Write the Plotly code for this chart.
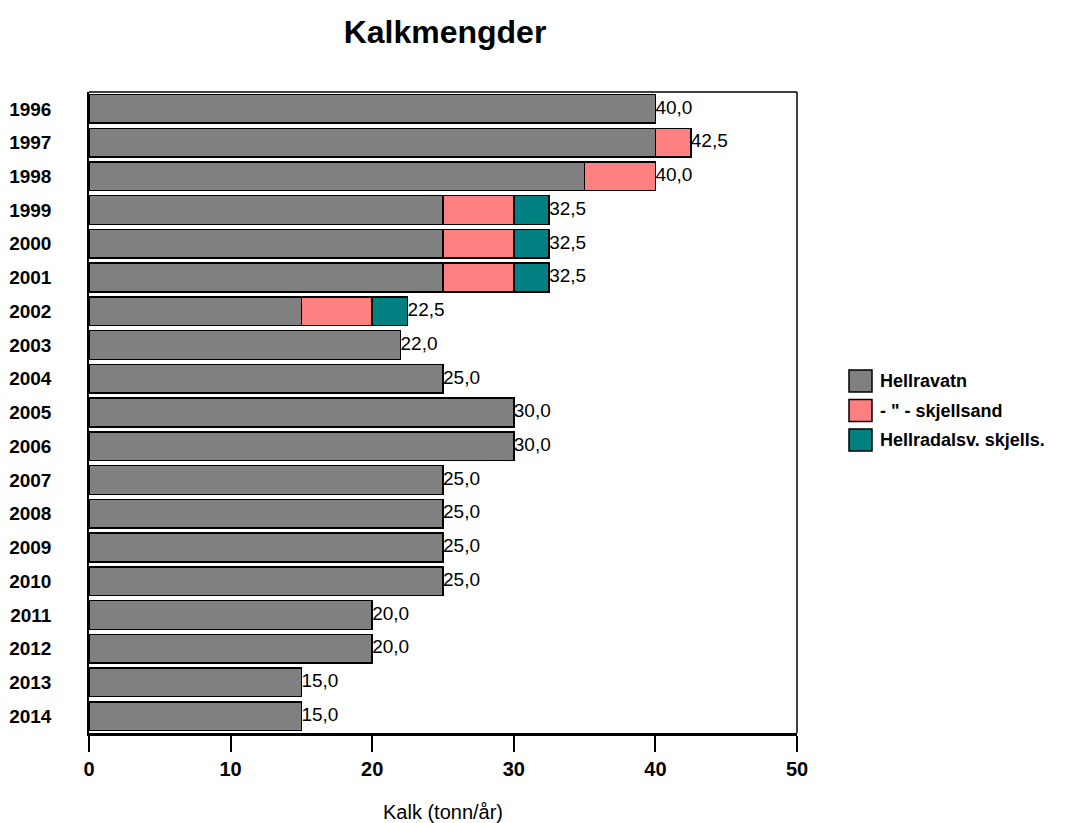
import plotly.graph_objects as go

years = [str(y) for y in range(1996, 2015)]
hellravatn = [40, 40, 35, 25, 25, 25, 15, 22, 25, 30, 30, 25, 25, 25, 25, 20, 20, 15, 15]
skjellsand = [0, 2.5, 5, 5, 5, 5, 5, 0, 0, 0, 0, 0, 0, 0, 0, 0, 0, 0, 0]
hellradalsv = [0, 0, 0, 2.5, 2.5, 2.5, 2.5, 0, 0, 0, 0, 0, 0, 0, 0, 0, 0, 0, 0]

series = [
    ("Hellravatn", hellravatn, "#808080"),
    ('- " - skjellsand', skjellsand, "#FF8080"),
    ("Hellradalsv. skjells.", hellradalsv, "#008080"),
]

totals = [a + b + c for a, b, c in zip(hellravatn, skjellsand, hellradalsv)]
labels = [f"{t:.1f}".replace(".", ",") for t in totals]

W, H = 1072, 823
L, R, T, B = 89, 275, 92, 90
FONT = "Arial, Liberation Sans, sans-serif"

fig = go.Figure()
for name, vals, color in series:
    fig.add_trace(go.Bar(
        y=years, x=vals, name=name, orientation="h",
        marker=dict(color=color, line=dict(color="black", width=1.5)),
        showlegend=False,
    ))

# total per year, written just past the end of each stacked bar
fig.add_trace(go.Scatter(
    y=years, x=totals, mode="text", text=labels,
    textposition="middle right", showlegend=False,
    textfont=dict(family=FONT, size=19, color="black"),
    cliponaxis=False, hoverinfo="skip",
))

fig.update_layout(
    barmode="stack",
    bargap=0.15,
    width=W, height=H,
    margin=dict(l=L, r=R, t=T, b=B, autoexpand=False),
    plot_bgcolor="white", paper_bgcolor="white",
    font=dict(family=FONT, color="black"),
    title=dict(text="<b>Kalkmengder</b>", x=445 / W, xanchor="center",
               y=1 - 32 / H, yanchor="middle",
               font=dict(size=32, color="black", family=FONT)),
    showlegend=False,
)

fig.update_xaxes(
    range=[0, 50], tickvals=[0, 10, 20, 30, 40, 50],
    ticktext=[f"<b>{v}</b>" for v in [0, 10, 20, 30, 40, 50]],
    ticks="outside", ticklen=16, tickwidth=1.5, tickcolor="black",
    showline=True, linecolor="black", linewidth=2.5, mirror=False,
    showgrid=False, zeroline=False, automargin=False,
    tickfont=dict(size=20, color="black", family=FONT),
    title=dict(text="Kalk (tonn/år)", font=dict(size=20, color="black", family=FONT), standoff=28),
)
fig.update_yaxes(
    range=[18.5, -0.5], categoryorder="array", categoryarray=years,
    tickvals=years, ticktext=[f"<b>{y}</b>" for y in years],
    showline=True, linecolor="black", linewidth=1.5,
    showgrid=False, zeroline=False, ticks="", ticklabelstandoff=32,
    automargin=False,
    tickfont=dict(size=19, color="black", family=FONT),
)

# thin frame on the top and right edges of the plotting area
fig.add_shape(type="line", xref="paper", yref="paper", x0=0, x1=1, y0=1, y1=1,
              line=dict(color="black", width=1.5))
fig.add_shape(type="line", xref="paper", yref="paper", x0=1, x1=1, y0=0, y1=1,
              line=dict(color="black", width=1.5))

# legend: swatch boxes with bold labels to the right of the plot
pw, ph = W - L - R, H - T - B
def px_x(x):
    return (x - L) / pw
def px_y(y):
    return (H - B - y) / ph

for i, (name, _, color) in enumerate(series):
    yc = 381 + i * 29.5
    fig.add_shape(type="rect", xref="paper", yref="paper",
                  x0=px_x(849), x1=px_x(872), y0=px_y(yc + 11), y1=px_y(yc - 11),
                  fillcolor=color, line=dict(color="black", width=1.5))
    fig.add_annotation(xref="paper", yref="paper", x=px_x(878), y=px_y(yc),
                       xanchor="left", yanchor="middle", showarrow=False,
                       text=f"<b>{name}</b>",
                       font=dict(size=18, color="black", family=FONT))

fig.write_html("out.html")
